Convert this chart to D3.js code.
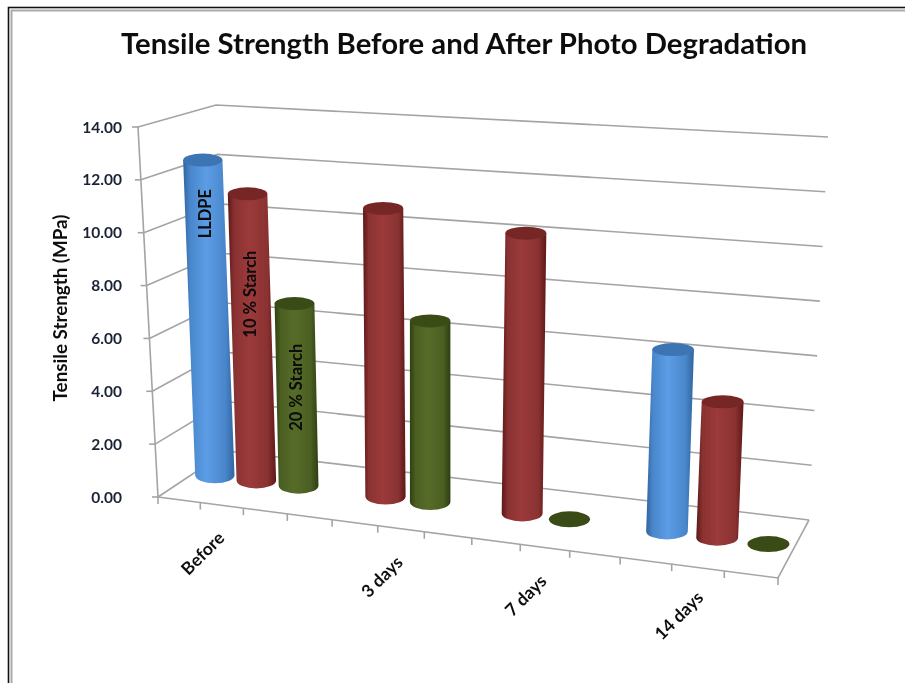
<!DOCTYPE html>
<html>
<head>
<meta charset="utf-8">
<script src="https://cdn.jsdelivr.net/npm/d3@7"></script>
<style>
  html, body { margin: 0; padding: 0; background: #fff; overflow: hidden; }
  text { font-family: Lato, "Noto Sans", sans-serif; font-weight: 700; }
</style>
</head>
<body>
<div id="chart"></div>
<script>
// values
const chartTitle = "Tensile Strength Before and After Photo Degradation";
const yTitle = "Tensile Strength (MPa)";
const yTicks = [0, 2, 4, 6, 8, 10, 12, 14];
const slotCount = 13;
const categories = ["Before", "3 days", "7 days", "14 days"];
const categoryLabelSlots = [1, 5, 8, 11];
const seriesNames = ["LLDPE", "10 % Starch", "20 % Starch"];
const lldpeSlots = [0, 10];
const lldpeValues = [12.3, 6.55];
const starch10Slots = [1, 4, 7, 11];
const starch10Values = [11.1, 10.9, 10.35, 4.85];
const starch20Slots = [2, 5, 8, 12];
const starch20Values = [7.0, 6.8, 0, 0];

const width = 905, height = 683;

// corners of the 3d box on screen: [x, y] at value 0 and at value 14
const corner0 = { fl: [158, 497], fr: [778, 578], br: [809, 520], bl: [227, 451] };
const corner14 = { fl: [138, 127], fr: [798, 165], br: [828, 137], bl: [216, 105] };

const vScale = d3.scaleLinear().domain([0, 14]).range([0, 1]);
const tScale = d3.scaleLinear().domain([0, slotCount]).range([0, 1]);

function lerp(a, b, k) { return [a[0] + (b[0] - a[0]) * k, a[1] + (b[1] - a[1]) * k]; }

// unit square to quad homography, t along the front edge, d towards the back
function project(t, d, value) {
  const k = vScale(value);
  const p0 = lerp(corner0.fl, corner14.fl, k);
  const p1 = lerp(corner0.fr, corner14.fr, k);
  const p2 = lerp(corner0.br, corner14.br, k);
  const p3 = lerp(corner0.bl, corner14.bl, k);
  const dx1 = p1[0] - p2[0], dx2 = p3[0] - p2[0], sx = p0[0] - p1[0] + p2[0] - p3[0];
  const dy1 = p1[1] - p2[1], dy2 = p3[1] - p2[1], sy = p0[1] - p1[1] + p2[1] - p3[1];
  const den = dx1 * dy2 - dx2 * dy1;
  const g = (sx * dy2 - dx2 * sy) / den;
  const h = (dx1 * sy - sx * dy1) / den;
  const a = p1[0] - p0[0] + g * p1[0], b = p3[0] - p0[0] + h * p3[0];
  const e = p1[1] - p0[1] + g * p1[1], f = p3[1] - p0[1] + h * p3[1];
  const w = g * t + h * d + 1;
  return [(a * t + b * d + p0[0]) / w, (e * t + f * d + p0[1]) / w];
}

const svg = d3.select("#chart").append("svg")
  .attr("width", width)
  .attr("height", height)
  .style("display", "block");

const defs = svg.append("defs");
defs.append("filter").attr("id", "soft")
  .attr("x", "-5%").attr("y", "-5%").attr("width", "110%").attr("height", "110%")
  .append("feGaussianBlur").attr("stdDeviation", 0.45);

const palette = [
  { id: "blue", edge: "#2f659f", mid: "#4a86cb", light: "#5c9de6", top: "#3d75b4" },
  { id: "red", edge: "#5e1818", mid: "#8a3232", light: "#9c3a3a", top: "#772828" },
  { id: "green", edge: "#2f3f12", mid: "#4b5f22", light: "#566c28", top: "#3a4c18" }
];
palette.forEach(function (c) {
  const grad = defs.append("linearGradient").attr("id", "grad-" + c.id)
    .attr("x1", 0).attr("x2", 1).attr("y1", 0).attr("y2", 0);
  [[0, c.edge], [0.14, c.mid], [0.45, c.light], [0.82, c.mid], [1, c.edge]].forEach(function (s) {
    grad.append("stop").attr("offset", s[0]).attr("stop-color", s[1]);
  });
});

// picture frame, only the left and top show
svg.append("rect").attr("x", 8.5).attr("y", 7.5).attr("width", 1000).attr("height", 1000)
  .attr("fill", "none").attr("stroke", "#111").attr("stroke-width", 1.6);
svg.append("rect").attr("x", 11.5).attr("y", 10.5).attr("width", 1000).attr("height", 1000)
  .attr("fill", "none").attr("stroke", "#aaa").attr("stroke-width", 2);

const g = svg.append("g").attr("filter", "url(#soft)");

g.append("text")
  .attr("x", 464).attr("y", 54)
  .attr("text-anchor", "middle")
  .attr("font-size", 29.3)
  .attr("fill", "#111")
  .text(chartTitle);

const gridColor = "#a4a4a4";
const line = d3.line();
function stroke(points) {
  g.append("path").attr("d", line(points))
    .attr("fill", "none").attr("stroke", gridColor).attr("stroke-width", 1.6);
}

// walls
yTicks.forEach(function (v) {
  stroke([project(0, 0, v), project(0, 1, v), project(1, 1, v)]);
  const p = project(0, 0, v);
  stroke([[p[0] - 6, p[1]], p]);
  g.append("text")
    .attr("x", 122).attr("y", p[1] + 5.5)
    .attr("text-anchor", "end")
    .attr("font-size", 15.5)
    .attr("fill", "#1b2436")
    .text(v.toFixed(2));
});
stroke([project(0, 0, 0), project(0, 0, 14)]);

// floor front and right edges with ticks
stroke([project(0, 0, 0), project(1, 0, 0), project(1, 1, 0)]);
d3.range(slotCount + 1).forEach(function (i) {
  const p = project(tScale(i), 0, 0);
  stroke([p, [p[0], p[1] + 7]]);
});

g.append("text")
  .attr("transform", "translate(67,308) rotate(-90)")
  .attr("text-anchor", "middle")
  .attr("font-size", 18.8)
  .attr("fill", "#111")
  .text(yTitle);

categories.forEach(function (name, i) {
  const p = project(tScale(categoryLabelSlots[i] + 0.5), 0, 0);
  g.append("text")
    .attr("transform", "translate(" + (p[0] - 19) + "," + (p[1] + 48) + ") rotate(-45)")
    .attr("text-anchor", "middle")
    .attr("dy", "0.35em")
    .attr("font-size", 17.5)
    .attr("fill", "#111")
    .text(name);
});

// bars, left to right
const barDepth = 0.51;
const series = [
  { slots: lldpeSlots, values: lldpeValues, color: palette[0], labelAt: 0.83 },
  { slots: starch10Slots, values: starch10Values, color: palette[1], labelAt: 0.65 },
  { slots: starch20Slots, values: starch20Values, color: palette[2], labelAt: 0.54 }
];
const bars = [];
series.forEach(function (s, si) {
  s.slots.forEach(function (slot, i) {
    bars.push({ slot: slot, value: s.values[i], color: s.color, series: si, first: i === 0 });
  });
});
bars.sort(function (a, b) { return a.slot - b.slot; });

const ry = 8, ryTop = 6.5;
bars.forEach(function (b) {
  const t = tScale(b.slot + 0.5);
  const base = project(t, barDepth, 0);
  const top = project(t, barDepth, b.value);
  const rx = 19.6 + 1.5 * t;
  if (b.value === 0) {
    g.append("ellipse").attr("cx", base[0]).attr("cy", base[1]).attr("rx", rx).attr("ry", ry)
      .attr("fill", b.color.top);
    return;
  }
  g.append("path")
    .attr("d", "M" + (top[0] - rx) + "," + top[1] +
      "L" + (base[0] - rx) + "," + base[1] +
      "A" + rx + "," + ry + " 0 0 0 " + (base[0] + rx) + "," + base[1] +
      "L" + (top[0] + rx) + "," + top[1] + "Z")
    .attr("fill", "url(#grad-" + b.color.id + ")");
  g.append("ellipse").attr("cx", top[0]).attr("cy", top[1]).attr("rx", rx).attr("ry", ryTop)
    .attr("fill", b.color.top);
  if (b.first) {
    const lab = project(t, barDepth, b.value * series[b.series].labelAt);
    g.append("text")
      .attr("transform", "translate(" + lab[0] + "," + lab[1] + ") rotate(-90)")
      .attr("text-anchor", "middle")
      .attr("dy", "0.35em")
      .attr("font-size", 16.5)
      .attr("fill", "#0a0a0a")
      .text(seriesNames[b.series]);
  }
});
</script>
</body>
</html>
